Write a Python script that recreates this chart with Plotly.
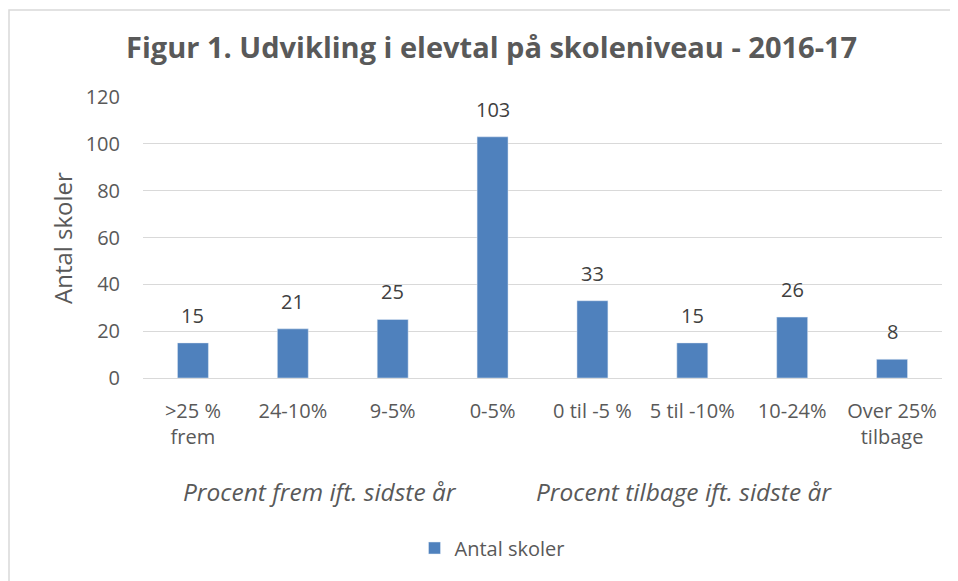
import plotly.graph_objects as go

categories = [">25 %<br>frem", "24-10%", "9-5%", "0-5%", "0 til -5 %", "5 til -10%", "10-24%", "Over 25%<br>tilbage"]
values = [15, 21, 25, 103, 33, 15, 26, 8]
y_ticks = [0, 20, 40, 60, 80, 100, 120]
series_name = "Antal skoler"
title_text = "Figur 1. Udvikling i elevtal på skoleniveau - 2016-17"
group_labels = ["Procent frem ift. sidste år", "Procent tilbage ift. sidste år"]

OFF = 8  # page body margin
W, H = 950, 573
L, R, T, B = 135, 16, 89, 203
pw, ph = W - L - R, H - T - B

def px_x(px):
    return (px - OFF - L) / pw

def px_y(py):
    return (H - B - (py - OFF)) / ph

grey = "#595959"
font = "Open Sans"

fig = go.Figure()
fig.add_trace(go.Bar(
    x=list(range(len(categories))), y=values, name=series_name,
    marker_color="#4F81BD", width=0.31,
))

fig.update_layout(
    width=W, height=H,
    margin=dict(l=L, r=R, t=T, b=B),
    paper_bgcolor="white", plot_bgcolor="white",
    font=dict(family=font, color=grey, size=20),
    showlegend=True,
    legend=dict(orientation="h", x=px_x(492), xanchor="center", y=px_y(548), yanchor="middle",
                font=dict(size=20, color=grey, family=font), itemwidth=30),
    xaxis=dict(
        tickmode="array", tickvals=list(range(len(categories))), ticktext=categories,
        range=[-0.5, len(categories) - 0.5],
        showgrid=False, showline=False, zeroline=False, ticks="",
        ticklabelstandoff=19,
        tickfont=dict(size=20, color=grey, family=font),
    ),
    yaxis=dict(
        range=[0, 120], tickvals=y_ticks, showgrid=True, gridcolor="#D9D9D9", gridwidth=1.2,
        zeroline=True, zerolinecolor="#D9D9D9", zerolinewidth=1.2, showline=False, ticks="",
        ticklabelstandoff=22,
        tickfont=dict(size=20, color=grey, family=font),
    ),
    shapes=[dict(type="rect", xref="paper", yref="paper",
                 x0=px_x(9), x1=px_x(975), y0=px_y(10), y1=px_y(600),
                 line=dict(color="#D9D9D9", width=1.5), fillcolor="rgba(0,0,0,0)", layer="below")],
)

annotations = [
    dict(text="<b>" + title_text + "</b>", xref="paper", yref="paper", x=px_x(491), y=px_y(47),
         xanchor="center", yanchor="middle", showarrow=False,
         font=dict(size=29, color=grey, family=font)),
    dict(text=series_name, xref="paper", yref="paper", x=px_x(62), y=px_y(238),
         xanchor="center", yanchor="middle", textangle=-90, showarrow=False,
         font=dict(size=24, color=grey, family=font)),
    dict(text="<i>" + group_labels[0] + "</i>", xref="paper", yref="paper", x=px_x(320), y=px_y(491),
         xanchor="center", yanchor="middle", showarrow=False,
         font=dict(size=24.5, color=grey, family=font)),
    dict(text="<i>" + group_labels[1] + "</i>", xref="paper", yref="paper", x=px_x(684), y=px_y(491),
         xanchor="center", yanchor="middle", showarrow=False,
         font=dict(size=24.5, color=grey, family=font)),
]
for i, v in enumerate(values):
    annotations.append(dict(text=str(v), x=i, y=v, xref="x", yref="y",
                            xanchor="center", yanchor="bottom", yshift=12, showarrow=False,
                            font=dict(size=20, color="#404040", family=font)))
fig.update_layout(annotations=annotations)

fig.write_html("out.html")
